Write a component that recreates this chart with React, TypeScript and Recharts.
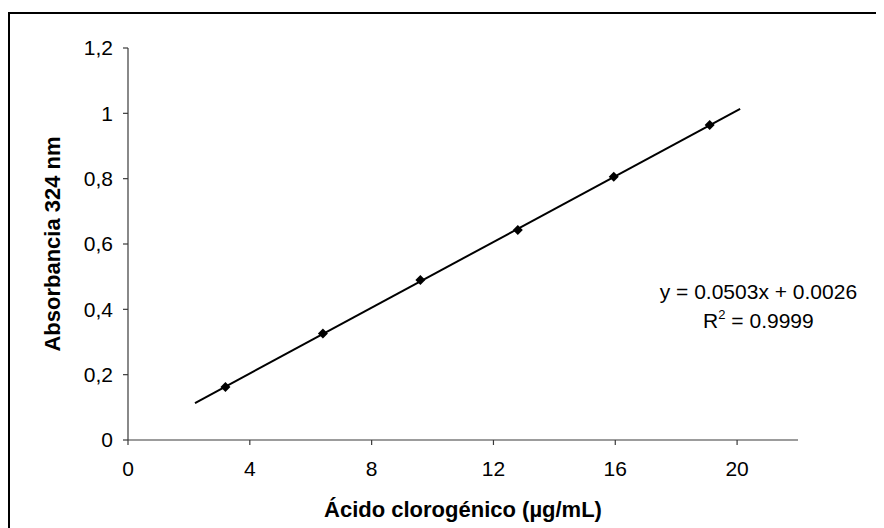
import React from 'react';
import { ComposedChart, Scatter, Line, XAxis, YAxis, Label, ReferenceDot } from 'recharts';

const concentrations = [3.2, 6.4, 9.6, 12.8, 15.95, 19.1];
const absorbances = [0.162, 0.326, 0.49, 0.643, 0.806, 0.964];
const trendX = [2.2, 20.1];
const trendY = [0.113, 1.014];
const xTicks = [0, 4, 8, 12, 16, 20];
const yTicks = [0, 0.2, 0.4, 0.6, 0.8, 1, 1.2];
const equationLine = 'y = 0.0503x + 0.0026';
const r2Value = '0.9999';
const xTitle = 'Ácido clorogénico (µg/mL)';
const yTitle = 'Absorbancia 324 nm';

const FONT = "'Liberation Sans', Arial, sans-serif";
const AXIS = '#3a3a3a';

const points = concentrations.map((x, i) => ({ x, y: absorbances[i] }));
const trend = trendX.map((x, i) => ({ x, y: trendY[i] }));

const Diamond = (props: any) => {
  const { cx, cy } = props;
  if (cx == null || cy == null) return null;
  const r = 5;
  return <path d={`M${cx},${cy - r}L${cx + r},${cy}L${cx},${cy + r}L${cx - r},${cy}Z`} fill="#000" />;
};

const fmtY = (v: number) => String(v).replace('.', ',');

export default function App() {
  return (
    <div style={{ position: 'relative', width: 876, height: 520, overflow: 'hidden', background: '#fff' }}>
      <style>{`html{overflow:hidden}`}</style>
      <div style={{ position: 'absolute', left: 0, top: 4, width: 1000, height: 1000, borderTop: '2px solid #000', borderLeft: '2px solid #000' }} />
      <div style={{ position: 'absolute', left: 0, top: 0 }}>
        <ComposedChart width={876} height={520} margin={{ top: 40, right: 86, bottom: 48, left: 60 }}>
          <XAxis
            type="number"
            dataKey="x"
            domain={[0, 22]}
            ticks={xTicks}
            allowDataOverflow
            height={40}
            tickSize={5}
            tickMargin={16}
            axisLine={{ stroke: AXIS, strokeWidth: 1.2 }}
            tickLine={{ stroke: AXIS, strokeWidth: 1.2 }}
            tick={{ fill: '#000', fontSize: 21, fontFamily: FONT }}
          >
            <Label
              content={(p: any) => {
                const vb = p.viewBox || {};
                return (
                  <text x={vb.x + vb.width / 2} y={509} textAnchor="middle" fontFamily={FONT} fontSize={22} fontWeight="bold" fill="#000">
                    {xTitle}
                  </text>
                );
              }}
            />
          </XAxis>
          <YAxis
            type="number"
            dataKey="y"
            domain={[0, 1.2]}
            ticks={yTicks}
            allowDataOverflow
            width={60}
            tickSize={5}
            tickMargin={10}
            tickFormatter={fmtY}
            axisLine={{ stroke: AXIS, strokeWidth: 1.2 }}
            tickLine={{ stroke: AXIS, strokeWidth: 1.2 }}
            tick={{ fill: '#000', fontSize: 21, fontFamily: FONT }}
          >
            <Label
              content={(p: any) => {
                const vb = p.viewBox || {};
                const cy = vb.y + vb.height / 2;
                return (
                  <text x={52} y={cy} transform={`rotate(-90, 52, ${cy})`} textAnchor="middle" fontFamily={FONT} fontSize={22} fontWeight="bold" fill="#000">
                    {yTitle}
                  </text>
                );
              }}
            />
          </YAxis>
          <Line data={trend} dataKey="y" stroke="#000" strokeWidth={2} dot={false} activeDot={false} isAnimationActive={false} legendType="none" />
          <Scatter data={points} dataKey="y" fill="#000" shape={Diamond} isAnimationActive={false} />
          <ReferenceDot
            x={20.7}
            y={0.433}
            r={0}
            fill="none"
            stroke="none"
            label={(p: any) => {
              const vb = p.viewBox || {};
              const cx = vb.x + (vb.width || 0) / 2;
              const cy = vb.y + (vb.height || 0) / 2;
              return (
                <g fontFamily={FONT} fontSize={21} fill="#000">
                  <text x={cx} y={cy} textAnchor="middle">{equationLine}</text>
                  <text x={cx} y={cy + 29} textAnchor="middle">
                    R<tspan fontSize={13} dy={-9}>2</tspan><tspan dy={9}> = {r2Value}</tspan>
                  </text>
                </g>
              );
            }}
          />
        </ComposedChart>
      </div>
    </div>
  );
}
